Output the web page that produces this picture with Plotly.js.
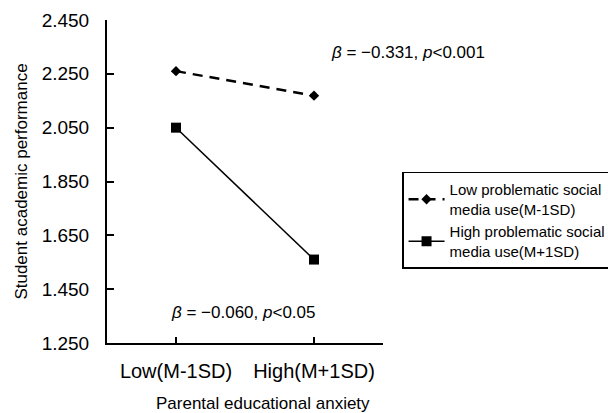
<!DOCTYPE html>
<html>
<head>
<meta charset="utf-8">
<script src="https://cdn.plot.ly/plotly-3.0.1.min.js"></script>
<style>html,body{margin:0;padding:0;background:#fff;}#chart{width:608px;height:413px;}</style>
</head>
<body>
<div id="chart"></div>
<script>
const categories = ["Low(M-1SD)", "High(M+1SD)"];
const lowPSMU = [2.260, 2.169];
const highPSMU = [2.050, 1.560];
const seriesNames = ["Low problematic social<br>media use(M-1SD)", "High problematic social<br>media use(M+1SD)"];
const yTicks = [1.25, 1.45, 1.65, 1.85, 2.05, 2.25, 2.45];
const xTitle = "Parental educational anxiety";
const yTitle = "Student academic performance";
const note1 = "<i>β</i> = −0.331, <i>p</i>&lt;0.001";
const note2 = "<i>β</i> = −0.060, <i>p</i>&lt;0.05";

const font = "Arial, 'Liberation Sans', sans-serif";

const traces = [
  {
    x: categories, y: lowPSMU, name: seriesNames[0], type: "scatter", mode: "lines+markers",
    line: {color: "#000", width: 2.5, dash: "10px,7px"},
    marker: {symbol: "diamond", size: 8, color: "#000"}
  },
  {
    x: categories, y: highPSMU, name: seriesNames[1], type: "scatter", mode: "lines+markers",
    line: {color: "#000", width: 1.5},
    marker: {symbol: "square", size: 10, color: "#000"}
  }
];

const layout = {
  width: 608, height: 413,
  margin: {l: 107, r: 225, t: 20, b: 70, autoexpand: false},
  paper_bgcolor: "#fff", plot_bgcolor: "#fff",
  font: {family: font, color: "#000"},
  showlegend: true,
  legend: {
    x: 1.069, y: 0.53, xanchor: "left", yanchor: "top",
    bgcolor: "#fff", bordercolor: "#000", borderwidth: 1.5,
    font: {family: font, size: 15, color: "#000"},
    itemwidth: 36,
    tracegroupgap: 0
  },
  xaxis: {
    type: "category",
    range: [-0.5, 1.5],
    tickmode: "array",
    tickvals: [0, 1, 1.5],
    ticktext: [categories[0], categories[1], ""],
    ticks: "inside", ticklen: 6, tickwidth: 2, tickcolor: "#000",
    showline: true, linecolor: "#000", linewidth: 2,
    showgrid: false, zeroline: false,
    tickfont: {family: font, size: 20, color: "#000"},
    ticklabelstandoff: 9
  },
  yaxis: {
    range: [1.25, 2.45],
    tickmode: "array",
    tickvals: yTicks,
    ticktext: yTicks.map(v => v.toFixed(3)),
    ticks: "inside", ticklen: 7, tickwidth: 2, tickcolor: "#000",
    showline: true, linecolor: "#000", linewidth: 2,
    showgrid: false, zeroline: false,
    tickfont: {family: font, size: 19, color: "#000"},
    ticklabelstandoff: 12,
    title: {text: yTitle, font: {family: font, size: 17, color: "#000"}, standoff: 10}
  },
  annotations: [
    {xref: "paper", yref: "paper", x: (263 - 107) / 276, y: (343 - 403) / 323, text: xTitle, showarrow: false,
     xanchor: "center", yanchor: "middle", font: {family: font, size: 17, color: "#000"}},
    {xref: "paper", yref: "paper", x: (408 - 107) / 276, y: (343 - 52) / 323, text: note1, showarrow: false,
     xanchor: "center", yanchor: "middle", font: {family: font, size: 17, color: "#000"}},
    {xref: "paper", yref: "paper", x: (243 - 107) / 276, y: (343 - 312) / 323, text: note2, showarrow: false,
     xanchor: "center", yanchor: "middle", font: {family: font, size: 17, color: "#000"}}
  ]
};

Plotly.newPlot("chart", traces, layout, {displayModeBar: false, staticPlot: true});
</script>
</body>
</html>
